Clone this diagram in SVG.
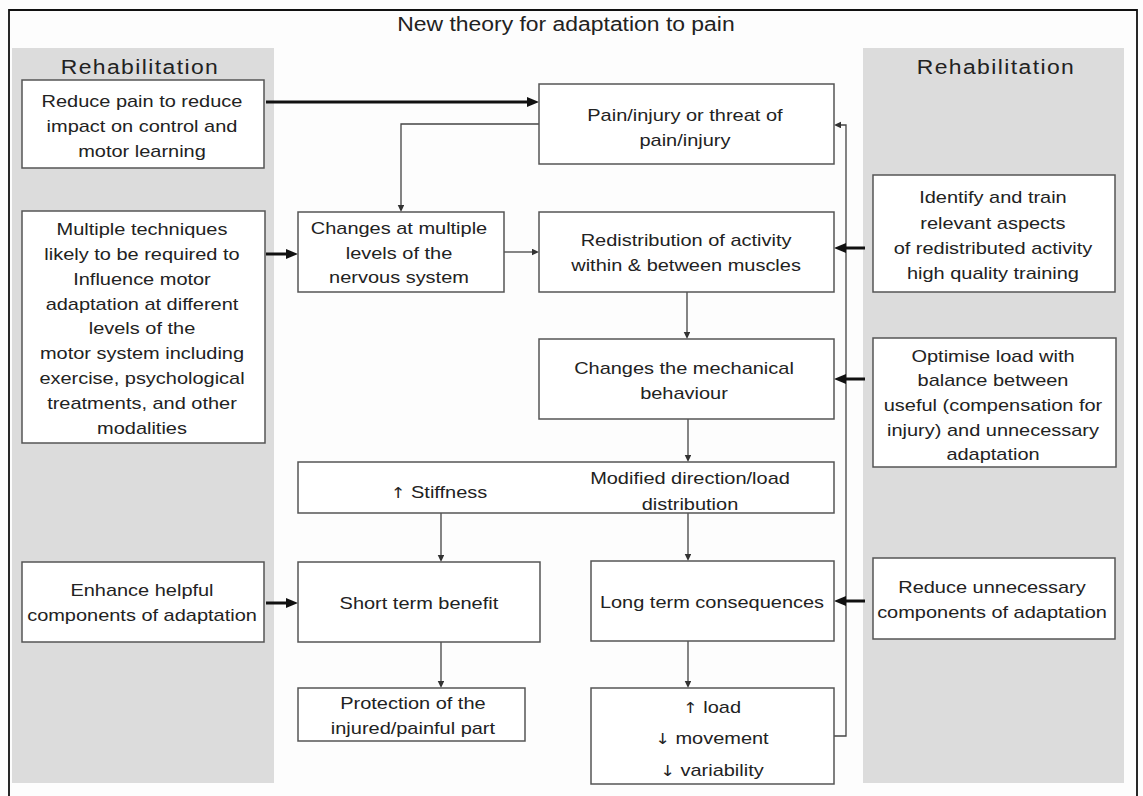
<svg xmlns="http://www.w3.org/2000/svg" width="1143" height="796" viewBox="0 0 1143 796">
<style>
.bg{fill:#fdfdfd}
.panel{fill:#dcdcdc}
.box{fill:#ffffff;stroke:#555555;stroke-width:1.5}
.t{font-family:"Liberation Sans",Arial,sans-serif;font-size:17px;fill:#222222;text-anchor:middle;transform-box:fill-box;transform-origin:center;transform:scaleX(1.175)}
.arr{font-family:"DejaVu Sans",sans-serif;font-size:15px}
.title{font-size:19.5px}
.rehab{font-size:19.5px;letter-spacing:1.2px}
.thin{fill:none;stroke:#444444;stroke-width:1.3}
.thick{fill:none;stroke:#111111;stroke-width:3}
.frame{fill:none;stroke:#111111;stroke-width:1.8}
</style>
<defs>
<marker id="ah" markerUnits="userSpaceOnUse" markerWidth="8" markerHeight="7" refX="2" refY="3.25" orient="auto">
<path d="M0,0 L7,3.25 L0,6.5 z" fill="#333333"/>
</marker>
<marker id="ahb" markerUnits="userSpaceOnUse" markerWidth="13" markerHeight="11" refX="4" refY="5" orient="auto">
<path d="M0,0 L12,5 L0,10 z" fill="#111111"/>
</marker>
</defs>
<rect class="bg" x="0" y="0" width="1143" height="796"/>
<path class="frame" d="M9,796 V10 H1137 V796"/>
<text class="t title" x="566" y="31">New theory for adaptation to pain</text>

<g id="panel-left">
<rect class="panel" x="12" y="48" width="262" height="735"/>
<text class="t rehab" x="140" y="74">Rehabilitation</text>
</g>
<g id="panel-right">
<rect class="panel" x="863" y="48" width="261" height="735"/>
<text class="t rehab" x="996" y="74">Rehabilitation</text>
</g>

<g id="connectors">
<path class="thick" d="M266,102 H531" marker-end="url(#ahb)"/>
<path class="thin" d="M539,124 H401 V207" marker-end="url(#ah)"/>
<path class="thick" d="M266,254 H290" marker-end="url(#ahb)"/>
<path class="thin" d="M504,252 H534" marker-end="url(#ah)"/>
<path class="thin" d="M687,292 V334" marker-end="url(#ah)"/>
<path class="thin" d="M688,419 V457" marker-end="url(#ah)"/>
<path class="thin" d="M441,513 V557" marker-end="url(#ah)"/>
<path class="thin" d="M688,513 V556" marker-end="url(#ah)"/>
<path class="thick" d="M266,603 H290" marker-end="url(#ahb)"/>
<path class="thin" d="M441,642 V683" marker-end="url(#ah)"/>
<path class="thin" d="M688,641 V683" marker-end="url(#ah)"/>
<path class="thin" d="M834,736 H846 V125 H839" marker-end="url(#ah)"/>
<path class="thick" d="M865,248 H842" marker-end="url(#ahb)"/>
<path class="thick" d="M865,379 H842" marker-end="url(#ahb)"/>
<path class="thick" d="M865,601 H842" marker-end="url(#ahb)"/>
</g>

<g id="reduce-pain">
<rect class="box" x="22" y="80" width="242" height="88"/>
<text class="t" x="142" y="107"><tspan x="142">Reduce pain to reduce</tspan><tspan x="142" y="132">impact on control and</tspan><tspan x="142" y="157">motor learning</tspan></text>
</g>

<g id="multiple-techniques">
<rect class="box" x="22" y="211" width="243" height="232"/>
<text class="t" x="142" y="235"><tspan x="142">Multiple techniques</tspan><tspan x="142" y="260">likely to be required to</tspan><tspan x="142" y="285">Influence motor</tspan><tspan x="142" y="310">adaptation at different</tspan><tspan x="142" y="334">levels of the</tspan><tspan x="142" y="359">motor system including</tspan><tspan x="142" y="384">exercise, psychological</tspan><tspan x="142" y="409">treatments, and other</tspan><tspan x="142" y="434">modalities</tspan></text>
</g>

<g id="enhance-helpful">
<rect class="box" x="22" y="562" width="242" height="80"/>
<text class="t" x="142" y="596"><tspan x="142">Enhance helpful</tspan><tspan x="142" y="621">components of adaptation</tspan></text>
</g>

<g id="pain-injury">
<rect class="box" x="539" y="84" width="295" height="80"/>
<text class="t" x="685" y="121"><tspan x="685">Pain/injury or threat of</tspan><tspan x="685" y="146">pain/injury</tspan></text>
</g>

<g id="changes-levels">
<rect class="box" x="298" y="212" width="206" height="80"/>
<text class="t" x="399" y="234"><tspan x="399">Changes at multiple</tspan><tspan x="399" y="259">levels of the</tspan><tspan x="399" y="283">nervous system</tspan></text>
</g>

<g id="redistribution">
<rect class="box" x="539" y="212" width="295" height="80"/>
<text class="t" x="686" y="246"><tspan x="686">Redistribution of activity</tspan><tspan x="686" y="271">within &amp; between muscles</tspan></text>
</g>

<g id="mechanical">
<rect class="box" x="539" y="339" width="295" height="80"/>
<text class="t" x="684" y="374"><tspan x="684">Changes the mechanical</tspan><tspan x="684" y="399">behaviour</tspan></text>
</g>

<g id="stiffness-direction">
<rect class="box" x="298" y="462" width="536" height="51"/>
<text class="t" x="439" y="498"><tspan class="arr">↑</tspan> Stiffness</text>
<text class="t" x="690" y="484"><tspan x="690">Modified direction/load</tspan><tspan x="690" y="510">distribution</tspan></text>
</g>

<g id="short-term">
<rect class="box" x="298" y="562" width="242" height="80"/>
<text class="t" x="419" y="609">Short term benefit</text>
</g>

<g id="protection">
<rect class="box" x="298" y="688" width="227" height="53"/>
<text class="t" x="413" y="709"><tspan x="413">Protection of the</tspan><tspan x="413" y="734">injured/painful part</tspan></text>
</g>

<g id="long-term">
<rect class="box" x="591" y="561" width="243" height="80"/>
<text class="t" x="712" y="608">Long term consequences</text>
</g>

<g id="load-movement">
<rect class="box" x="591" y="688" width="243" height="96"/>
<text class="t" x="712" y="713"><tspan class="arr">↑</tspan> load</text>
<text class="t" x="712" y="744"><tspan class="arr">↓</tspan> movement</text>
<text class="t" x="712" y="776"><tspan class="arr">↓</tspan> variability</text>
</g>

<g id="identify-train">
<rect class="box" x="873" y="175" width="242" height="117"/>
<text class="t" x="993" y="203"><tspan x="993">Identify and train</tspan><tspan x="993" y="229">relevant aspects</tspan><tspan x="993" y="254">of redistributed activity</tspan><tspan x="993" y="279">high quality training</tspan></text>
</g>

<g id="optimise-load">
<rect class="box" x="873" y="338" width="243" height="129"/>
<text class="t" x="993" y="362"><tspan x="993">Optimise load with</tspan><tspan x="993" y="386">balance between</tspan><tspan x="993" y="411">useful (compensation for</tspan><tspan x="993" y="436">injury) and unnecessary</tspan><tspan x="993" y="460">adaptation</tspan></text>
</g>

<g id="reduce-unnecessary">
<rect class="box" x="873" y="558" width="242" height="81"/>
<text class="t" x="992" y="593"><tspan x="992">Reduce unnecessary</tspan><tspan x="992" y="618">components of adaptation</tspan></text>
</g>
</svg>
